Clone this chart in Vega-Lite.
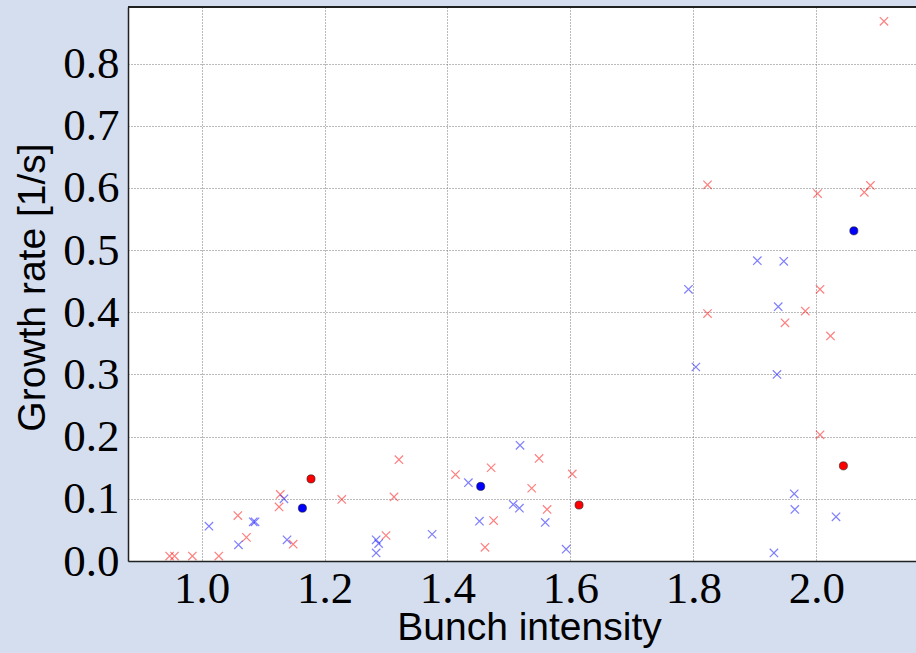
{
  "$schema": "https://vega.github.io/schema/vega-lite/v6.json",
  "autosize": "none",
  "width": 788,
  "height": 554,
  "padding": {"left": 128, "top": 7, "right": 0, "bottom": 92},
  "background": "#d4deef",
  "config": {
    "view": {"stroke": null, "fill": "white"},
    "axis": {
      "labelFont": "Liberation Serif",
      "labelFontSize": 45,
      "labelColor": "black",
      "titleFont": "Liberation Sans",
      "titleFontSize": 39,
      "titleFontWeight": "normal",
      "titleColor": "black",
      "domainColor": "#222",
      "domainWidth": 1.5,
      "ticks": false,
      "grid": true,
      "gridColor": "#777",
      "gridDash": [1, 2],
      "gridWidth": 1,
      "gridOpacity": 1
    }
  },
  "data": {
    "values": [
      {"intensity": 0.948, "rate": 0.008, "beam": "red", "kind": "cross"},
      {"intensity": 0.956, "rate": 0.008, "beam": "red", "kind": "cross"},
      {"intensity": 0.985, "rate": 0.008, "beam": "red", "kind": "cross"},
      {"intensity": 1.028, "rate": 0.008, "beam": "red", "kind": "cross"},
      {"intensity": 1.059, "rate": 0.073, "beam": "red", "kind": "cross"},
      {"intensity": 1.073, "rate": 0.038, "beam": "red", "kind": "cross"},
      {"intensity": 1.128, "rate": 0.107, "beam": "red", "kind": "cross"},
      {"intensity": 1.126, "rate": 0.087, "beam": "red", "kind": "cross"},
      {"intensity": 1.149, "rate": 0.027, "beam": "red", "kind": "cross"},
      {"intensity": 1.228, "rate": 0.099, "beam": "red", "kind": "cross"},
      {"intensity": 1.313, "rate": 0.103, "beam": "red", "kind": "cross"},
      {"intensity": 1.321, "rate": 0.163, "beam": "red", "kind": "cross"},
      {"intensity": 1.300, "rate": 0.041, "beam": "red", "kind": "cross"},
      {"intensity": 1.413, "rate": 0.139, "beam": "red", "kind": "cross"},
      {"intensity": 1.471, "rate": 0.150, "beam": "red", "kind": "cross"},
      {"intensity": 1.549, "rate": 0.165, "beam": "red", "kind": "cross"},
      {"intensity": 1.537, "rate": 0.117, "beam": "red", "kind": "cross"},
      {"intensity": 1.603, "rate": 0.140, "beam": "red", "kind": "cross"},
      {"intensity": 1.562, "rate": 0.083, "beam": "red", "kind": "cross"},
      {"intensity": 1.475, "rate": 0.065, "beam": "red", "kind": "cross"},
      {"intensity": 1.461, "rate": 0.022, "beam": "red", "kind": "cross"},
      {"intensity": 1.823, "rate": 0.605, "beam": "red", "kind": "cross"},
      {"intensity": 2.002, "rate": 0.591, "beam": "red", "kind": "cross"},
      {"intensity": 2.078, "rate": 0.593, "beam": "red", "kind": "cross"},
      {"intensity": 2.088, "rate": 0.604, "beam": "red", "kind": "cross"},
      {"intensity": 1.823, "rate": 0.398, "beam": "red", "kind": "cross"},
      {"intensity": 2.006, "rate": 0.437, "beam": "red", "kind": "cross"},
      {"intensity": 1.982, "rate": 0.402, "beam": "red", "kind": "cross"},
      {"intensity": 1.949, "rate": 0.383, "beam": "red", "kind": "cross"},
      {"intensity": 2.023, "rate": 0.362, "beam": "red", "kind": "cross"},
      {"intensity": 2.006, "rate": 0.203, "beam": "red", "kind": "cross"},
      {"intensity": 2.110, "rate": 0.868, "beam": "red", "kind": "cross"},
      {"intensity": 1.012, "rate": 0.056, "beam": "blue", "kind": "cross"},
      {"intensity": 1.060, "rate": 0.026, "beam": "blue", "kind": "cross"},
      {"intensity": 1.084, "rate": 0.063, "beam": "blue", "kind": "cross"},
      {"intensity": 1.087, "rate": 0.063, "beam": "blue", "kind": "cross"},
      {"intensity": 1.134, "rate": 0.100, "beam": "blue", "kind": "cross"},
      {"intensity": 1.139, "rate": 0.034, "beam": "blue", "kind": "cross"},
      {"intensity": 1.284, "rate": 0.034, "beam": "blue", "kind": "cross"},
      {"intensity": 1.288, "rate": 0.028, "beam": "blue", "kind": "cross"},
      {"intensity": 1.284, "rate": 0.013, "beam": "blue", "kind": "cross"},
      {"intensity": 1.518, "rate": 0.186, "beam": "blue", "kind": "cross"},
      {"intensity": 1.434, "rate": 0.126, "beam": "blue", "kind": "cross"},
      {"intensity": 1.507, "rate": 0.091, "beam": "blue", "kind": "cross"},
      {"intensity": 1.517, "rate": 0.085, "beam": "blue", "kind": "cross"},
      {"intensity": 1.452, "rate": 0.064, "beam": "blue", "kind": "cross"},
      {"intensity": 1.559, "rate": 0.062, "beam": "blue", "kind": "cross"},
      {"intensity": 1.593, "rate": 0.019, "beam": "blue", "kind": "cross"},
      {"intensity": 1.375, "rate": 0.043, "beam": "blue", "kind": "cross"},
      {"intensity": 1.904, "rate": 0.483, "beam": "blue", "kind": "cross"},
      {"intensity": 1.947, "rate": 0.482, "beam": "blue", "kind": "cross"},
      {"intensity": 1.792, "rate": 0.437, "beam": "blue", "kind": "cross"},
      {"intensity": 1.938, "rate": 0.409, "beam": "blue", "kind": "cross"},
      {"intensity": 1.804, "rate": 0.312, "beam": "blue", "kind": "cross"},
      {"intensity": 1.936, "rate": 0.300, "beam": "blue", "kind": "cross"},
      {"intensity": 1.964, "rate": 0.108, "beam": "blue", "kind": "cross"},
      {"intensity": 1.965, "rate": 0.083, "beam": "blue", "kind": "cross"},
      {"intensity": 2.032, "rate": 0.071, "beam": "blue", "kind": "cross"},
      {"intensity": 1.931, "rate": 0.013, "beam": "blue", "kind": "cross"},
      {"intensity": 1.178, "rate": 0.132, "beam": "red", "kind": "dot"},
      {"intensity": 1.614, "rate": 0.090, "beam": "red", "kind": "dot"},
      {"intensity": 2.044, "rate": 0.153, "beam": "red", "kind": "dot"},
      {"intensity": 1.164, "rate": 0.085, "beam": "blue", "kind": "dot"},
      {"intensity": 1.454, "rate": 0.120, "beam": "blue", "kind": "dot"},
      {"intensity": 2.061, "rate": 0.531, "beam": "blue", "kind": "dot"}
    ]
  },
  "encoding": {
    "x": {
      "field": "intensity",
      "type": "quantitative",
      "scale": {"domain": [0.8803, 2.1621], "nice": false, "zero": false},
      "axis": {
        "title": "Bunch intensity",
        "values": [1.0, 1.2, 1.4, 1.6, 1.8, 2.0],
        "format": ".1f",
        "labelPadding": 5,
        "titleX": 401,
        "titleY": 78,
        "titleAlign": "center",
        "titleBaseline": "alphabetic",
        "labelFlush": false
      }
    },
    "y": {
      "field": "rate",
      "type": "quantitative",
      "scale": {"domain": [0, 0.891], "nice": false},
      "axis": {
        "title": "Growth rate [1/s]",
        "values": [0.0, 0.1, 0.2, 0.3, 0.4, 0.5, 0.6, 0.7, 0.8],
        "format": ".1f",
        "labelPadding": 9,
        "titleX": -84,
        "titleY": 280,
        "titleAngle": -90,
        "titleAlign": "center",
        "titleBaseline": "alphabetic",
        "labelFlush": false
      }
    }
  },
  "layer": [
    {
      "transform": [{"filter": "datum.kind === 'cross'"}],
      "mark": {
        "type": "point",
        "shape": "M-1,-1L1,1M-1,1L1,-1",
        "filled": false,
        "size": 70,
        "strokeWidth": 1.2,
        "opacity": 0.5
      },
      "encoding": {
        "stroke": {
          "field": "beam",
          "type": "nominal",
          "scale": {"domain": ["red", "blue"], "range": ["#ff0000", "#0000ff"]},
          "legend": null
        }
      }
    },
    {
      "transform": [{"filter": "datum.kind === 'dot'"}],
      "mark": {
        "type": "point",
        "shape": "circle",
        "filled": true,
        "size": 66,
        "stroke": "#222",
        "strokeWidth": 0.6,
        "opacity": 1
      },
      "encoding": {
        "fill": {
          "field": "beam",
          "type": "nominal",
          "scale": {"domain": ["red", "blue"], "range": ["#ff0000", "#0000ff"]},
          "legend": null
        }
      }
    },
    {
      "mark": {"type": "rule", "color": "#222", "strokeWidth": 1.5},
      "encoding": {
        "x": {"datum": 0.8803, "type": "quantitative"},
        "x2": {"datum": 2.1621},
        "y": {"datum": 0.891, "type": "quantitative"}
      }
    }
  ]
}
